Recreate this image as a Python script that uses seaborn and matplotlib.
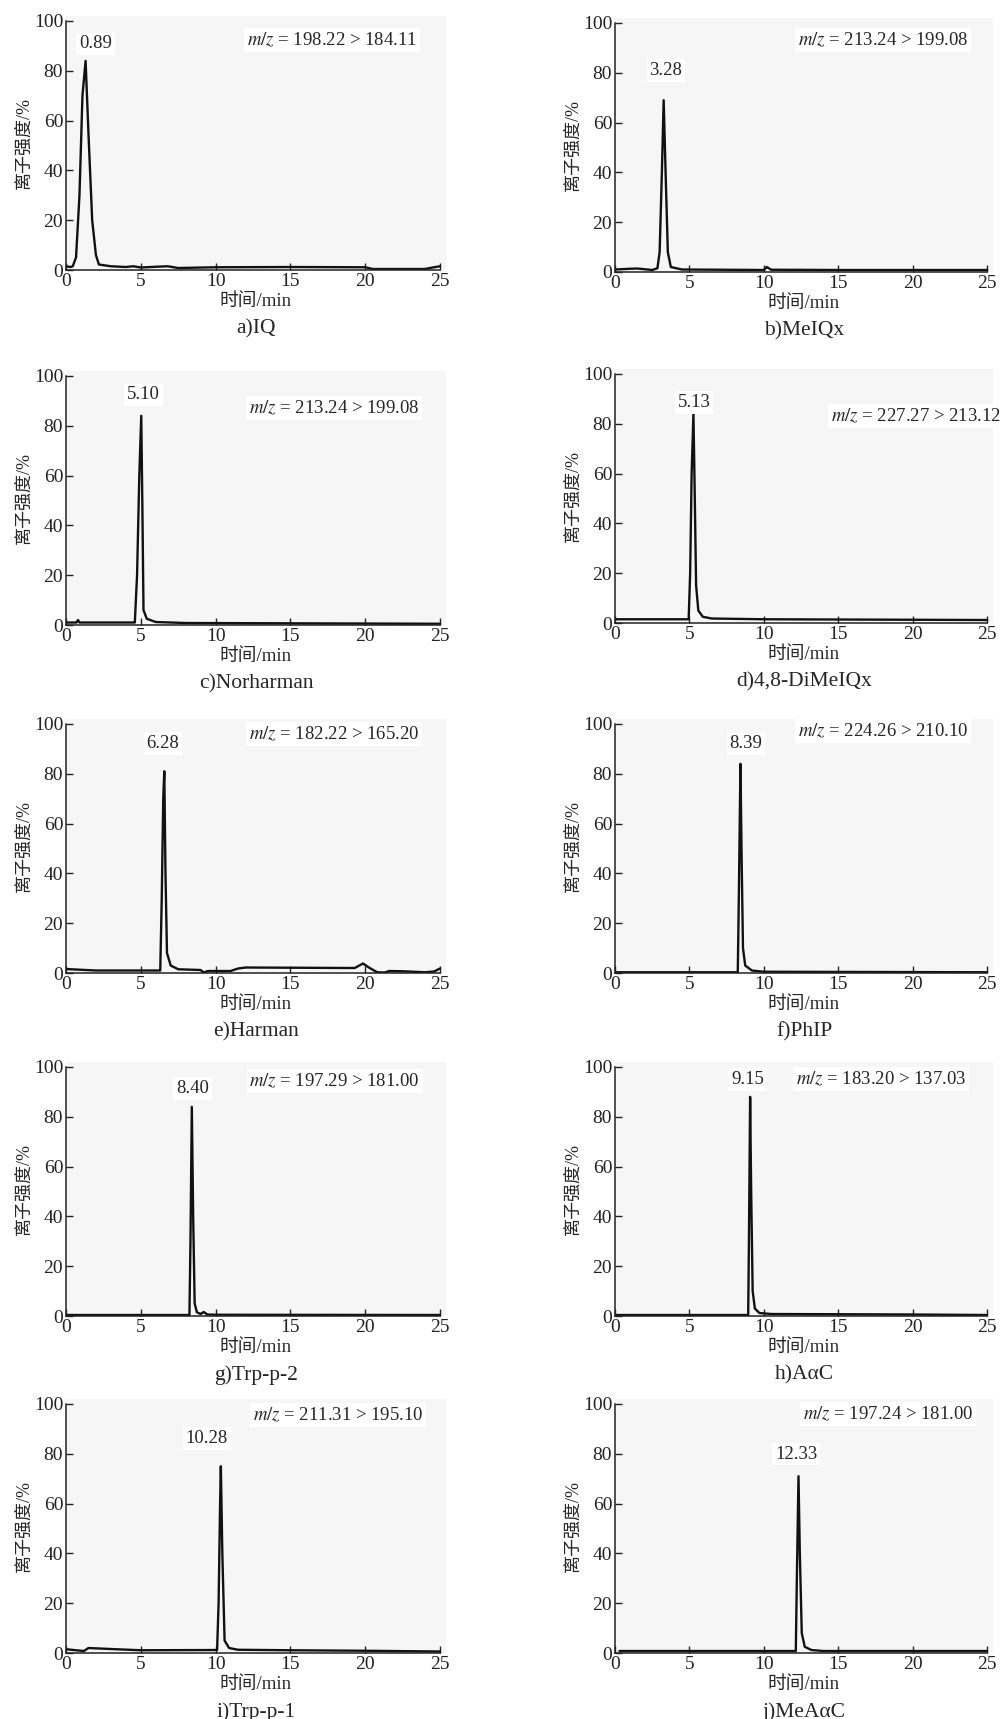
import matplotlib
matplotlib.use('Agg')
import matplotlib.pyplot as plt
import seaborn as sns
import pandas as pd

# retention time (min) / ion intensity (%)
iq_t = [0, 0.3, 0.45, 0.67, 0.9, 1.1, 1.31, 1.5, 1.75, 2.0, 2.2, 3.0, 4.0, 4.5, 5.0, 6.0, 6.8, 7.5, 10, 15, 20, 20.5, 24, 24.5, 25]
iq_y = [1.5, 1.2, 1.5, 5, 30, 70, 84, 55, 20, 6, 2.2, 1.5, 1.2, 1.5, 1.0, 1.3, 1.5, 0.8, 1.1, 1.2, 1.1, 0.4, 0.4, 1.0, 1.5]

meiqx_t = [0, 1.0, 1.5, 2.5, 2.85, 3.0, 3.15, 3.27, 3.4, 3.55, 3.75, 4.5, 10, 10.2, 10.5, 15, 20, 25]
meiqx_y = [1.0, 1.3, 1.4, 0.8, 1.5, 8, 40, 69, 40, 8, 2, 1.0, 0.8, 2.0, 0.9, 0.8, 0.8, 0.8]

norh_t = [0, 0.7, 0.8, 0.9, 4.6, 4.75, 4.9, 5.03, 5.1, 5.18, 5.4, 6.0, 8.0, 25]
norh_y = [1.0, 1.0, 2.0, 1.0, 1.0, 20, 60, 84, 50, 6, 2.5, 1.2, 0.8, 0.5]

dimeiqx_t = [0, 4.95, 5.05, 5.15, 5.27, 5.35, 5.45, 5.6, 5.9, 6.5, 10, 25]
dimeiqx_y = [1.5, 1.5, 20, 60, 84, 55, 15, 5, 2.5, 1.8, 1.5, 1.2]

harman_t = [0, 2, 6.3, 6.4, 6.5, 6.57, 6.65, 6.75, 7.0, 7.5, 9.0, 9.2, 9.5, 11, 11.5, 12, 19.3, 19.85, 20.3, 20.8, 21.3, 21.6, 22.5, 24, 24.6, 25]
harman_y = [1.6, 1.0, 1.0, 30, 70, 81, 40, 8, 3, 1.5, 1.2, 0.2, 0.8, 0.8, 1.8, 2.2, 2.0, 3.8, 2.0, 0.3, 0.2, 0.8, 0.7, 0.3, 0.6, 1.8]

phip_t = [0, 8.25, 8.32, 8.43, 8.5, 8.6, 8.75, 9.2, 10, 25]
phip_y = [0.3, 0.3, 30, 84, 50, 10, 3, 1.0, 0.5, 0.3]

trp2_t = [0, 8.25, 8.32, 8.41, 8.5, 8.6, 8.75, 9.0, 9.2, 9.45, 10, 25]
trp2_y = [0.4, 0.4, 30, 84, 40, 5, 1.5, 0.8, 1.6, 0.6, 0.5, 0.4]

aac_t = [0, 8.95, 9.0, 9.08, 9.15, 9.25, 9.4, 9.7, 10.5, 20, 25]
aac_y = [0.4, 0.4, 30, 88, 50, 10, 3, 1.2, 0.8, 0.6, 0.4]

trp1_t = [0, 1.2, 1.5, 3, 5, 10.1, 10.2, 10.3, 10.35, 10.45, 10.6, 10.9, 11.5, 15, 20, 25]
trp1_y = [1.5, 0.8, 2.0, 1.6, 1.1, 1.2, 20, 60, 75, 40, 5, 2, 1.3, 1.1, 0.9, 0.6]

meaac_t = [0.3, 12.15, 12.22, 12.33, 12.42, 12.55, 12.75, 13.2, 14, 25]
meaac_y = [0.8, 0.8, 30, 71, 40, 8, 2.5, 1.2, 0.8, 0.8]

captions = ['a)IQ', 'b)MeIQx', 'c)Norharman', 'd)4,8-DiMeIQx', 'e)Harman',
            'f)PhIP', 'g)Trp-p-2', 'h)A\u03b1C', 'i)Trp-p-1', 'j)MeA\u03b1C']
peak_labels = ['0.89', '3.28', '5.10', '5.13', '6.28', '8.39', '8.40', '9.15', '10.28', '12.33']
mz_labels = ['198.22 > 184.11', '213.24 > 199.08', '213.24 > 199.08', '227.27 > 213.12',
             '182.22 > 165.20', '224.26 > 210.10', '197.29 > 181.00', '183.20 > 137.03',
             '211.31 > 195.10', '197.24 > 181.00']
traces = [(iq_t, iq_y), (meiqx_t, meiqx_y), (norh_t, norh_y), (dimeiqx_t, dimeiqx_y),
          (harman_t, harman_y), (phip_t, phip_y), (trp2_t, trp2_y), (aac_t, aac_y),
          (trp1_t, trp1_y), (meaac_t, meaac_y)]

# text placement (data coords): peak label x, y, m/z x, y
text_pos = [(1.98, 90.8, 17.8, 92.4), (3.42, 80.8, 18.0, 93.0), (5.18, 92.4, 17.9, 87.0),
            (5.3, 88.6, 20.2, 83.2), (6.49, 92.2, 17.9, 95.9), (8.81, 92.0, 18.0, 97.0),
            (8.44, 91.3, 17.95, 94.3), (8.9, 95.0, 17.9, 95.0), (9.42, 86.2, 18.17, 95.6),
            (12.17, 79.9, 18.37, 96.0)]

sns.set_style('ticks')
plt.rcParams['font.family'] = ['Liberation Serif', 'Noto Sans CJK SC']
plt.rcParams['mathtext.fontset'] = 'stix'
plt.rcParams['font.size'] = 14

W, H = 1006, 1719
fig = plt.figure(figsize=(W / 100, H / 100), dpi=100)
fig.patch.set_facecolor('white')

left_px = [66, 615]
width_px = [380, 378]
bottoms_px = [[270, 625, 973, 1316, 1653], [272, 623, 973, 1316, 1653]]
ax_h = 254

for i, (t, y) in enumerate(traces):
    row, col = i // 2, i % 2
    ax = fig.add_axes([left_px[col] / W, 1 - bottoms_px[col][row] / H,
                       width_px[col] / W, ax_h / H])
    ax.set_facecolor('#f6f6f6')
    df = pd.DataFrame({'t': t, 'y': y})
    sns.lineplot(data=df, x='t', y='y', ax=ax, color='#111111', lw=1.7,
                 sort=False, estimator=None)
    ax.set_xlim(0, 25.4)
    ax.set_ylim(0, 102)
    ax.set_xticks(range(0, 26, 5))
    ax.set_yticks(range(0, 101, 20))
    ax.tick_params(direction='in', length=5, width=1.0, pad=2, labelsize=14, colors='#222222')
    for s in ['top', 'right']:
        ax.spines[s].set_visible(False)
    ax.spines['bottom'].set_bounds(0, 25)
    ax.spines['left'].set_bounds(0, 100)
    for s in ['left', 'bottom']:
        ax.spines[s].set_color('#222222')
        ax.spines[s].set_linewidth(1.1)
    ax.set_xlabel('时间/min', fontsize=13.5, labelpad=2)
    ax.set_ylabel('离子强度/%', fontsize=13, labelpad=1)
    lx, ly, mx, my = text_pos[i]
    box = dict(facecolor='white', edgecolor='none', pad=2)
    ax.text(lx, ly, peak_labels[i], ha='center', va='center', fontsize=13.5, bbox=box)
    ax.text(mx, my, r'$m/z$ = ' + mz_labels[i], ha='center', va='center', fontsize=13.5, bbox=box)
    ax.text(0.5, -0.232, captions[i], transform=ax.transAxes, ha='center', va='center',
            fontsize=15.5)

fig.savefig('out.png', dpi=100, facecolor='white')
